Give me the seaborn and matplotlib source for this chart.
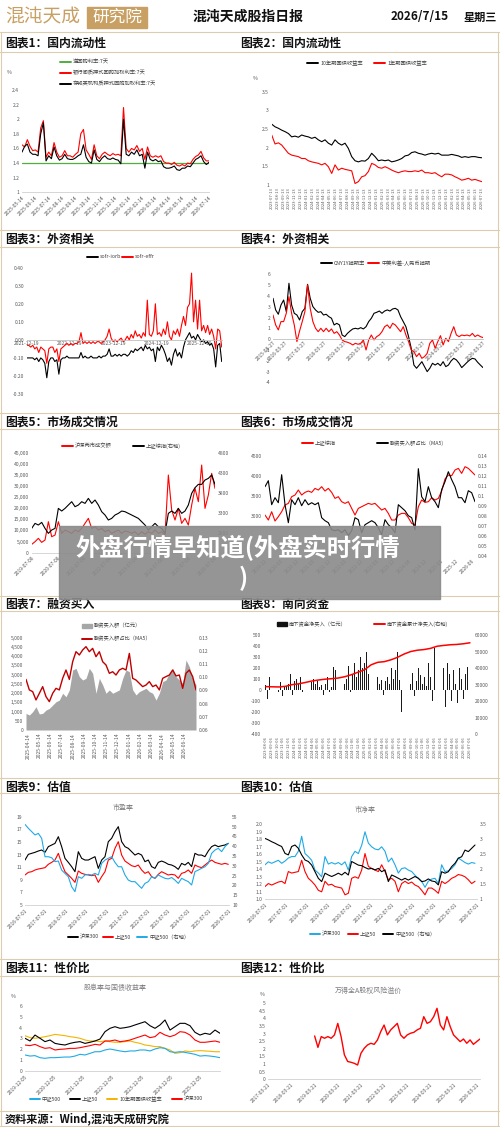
import numpy as np
import matplotlib
matplotlib.use('Agg')
import matplotlib.pyplot as plt
import seaborn as sns
from matplotlib.lines import Line2D
from matplotlib.patches import Rectangle

sns.set_theme(style='white')
plt.rcParams['font.family'] = ['Noto Sans CJK SC', 'DejaVu Sans']
plt.rcParams['axes.unicode_minus'] = False

# ---------------- DATA ----------------
# Panel 1: 国内流动性 (repo rates)
p1_xlabels = ['2025-05-14', '2025-06-14', '2025-07-14', '2025-08-14', '2025-09-14', '2025-10-14',
              '2025-11-14', '2025-12-14', '2026-01-14', '2026-02-14', '2026-03-14', '2026-04-14',
              '2026-05-14', '2026-06-14', '2026-07-14']
p1_ylabels = ['1', '1.2', '1.4', '1.6', '1.8', '2', '2.2', '2.4']
p1_green = [1.40, 1.40]
p1_red = [1.65, 1.62, 1.72, 1.63, 1.57, 1.58, 1.55, 1.88, 1.98, 1.48, 1.55, 1.50, 1.68, 1.55, 1.48,
          1.50, 1.57, 1.50, 1.50, 1.48, 1.52, 1.55, 1.80, 1.86, 1.58, 1.52, 1.45, 1.65, 1.50, 1.46,
          1.52, 1.55, 1.52, 1.50, 1.53, 1.51, 1.52, 1.50, 2.16, 1.60, 1.55, 1.60, 1.58, 1.64, 1.56,
          1.60, 1.45, 1.62, 1.50, 1.48, 1.50, 1.48, 1.50, 1.42, 1.40, 1.40, 1.38, 1.41, 1.37, 1.36,
          1.38, 1.36, 1.40, 1.39, 1.45, 1.49, 1.51, 1.56, 1.47, 1.43, 1.43]
p1_black = [1.55, 1.63, 1.66, 1.55, 1.52, 1.52, 1.50, 1.80, 1.95, 1.43, 1.50, 1.46, 1.62, 1.50, 1.44,
            1.46, 1.52, 1.46, 1.45, 1.45, 1.47, 1.50, 1.52, 1.65, 1.48, 1.42, 1.40, 1.58, 1.45, 1.42,
            1.47, 1.50, 1.46, 1.45, 1.47, 1.45, 1.44, 1.39, 2.00, 1.52, 1.50, 1.55, 1.52, 1.58, 1.50,
            1.52, 1.33, 1.55, 1.45, 1.43, 1.45, 1.42, 1.43, 1.35, 1.33, 1.33, 1.34, 1.36, 1.31, 1.30,
            1.33, 1.33, 1.36, 1.35, 1.40, 1.45, 1.47, 1.50, 1.42, 1.38, 1.41]

# Panel 2: 国债收益率
p2_xlabels = ['%d-%02d-13' % (2023 + (6 + i) // 12, (6 + i) % 12 + 1) for i in range(37)]
p2_ylabels = ['1', '1.5', '2', '2.5', '3', '3.5']
p2_10y = [2.63, 2.56, 2.52, 2.47, 2.43, 2.38, 2.29, 2.31, 2.28, 2.34, 2.31, 2.29, 2.25, 2.28, 2.21,
          2.16, 2.21, 2.12, 2.07, 2.21, 2.12, 2.07, 2.12, 1.98, 1.76, 1.65, 1.62, 1.65, 1.64, 1.71,
          1.85, 1.76, 1.65, 1.67, 1.65, 1.67, 1.62, 1.64, 1.67, 1.71, 1.78, 1.80, 1.87, 1.89, 1.85,
          1.83, 1.80, 1.83, 1.85, 1.83, 1.85, 1.80, 1.80, 1.80, 1.82, 1.80, 1.78, 1.74, 1.76, 1.74,
          1.76, 1.76, 1.74, 1.73]
p2_1y = [2.34, 2.10, 2.13, 2.07, 1.96, 1.85, 1.80, 1.78, 1.76, 1.71, 1.71, 1.65, 1.62, 1.60, 1.58,
         1.54, 1.58, 1.49, 1.31, 1.54, 1.40, 1.45, 1.42, 1.40, 1.38, 1.04, 1.09, 1.22, 1.25, 1.36,
         1.58, 1.54, 1.47, 1.45, 1.49, 1.45, 1.40, 1.36, 1.33, 1.36, 1.38, 1.36, 1.36, 1.38, 1.36,
         1.40, 1.33, 1.33, 1.31, 1.33, 1.27, 1.22, 1.29, 1.29, 1.27, 1.22, 1.18, 1.13, 1.15, 1.18,
         1.13, 1.15, 1.12, 1.09]

# Panel 3: 外资相关 (sofr spreads)
p3_xlabels = ['2021-12-19', '2022-12-19', '2023-12-19', '2024-12-19', '2025-12-19']
p3_ylabels = ['-0.30', '-0.20', '-0.10', '0.00', '0.10', '0.20', '0.30', '0.40']
p3_iorb = [-0.10, -0.10, -0.10, -0.10, -0.11, -0.10, -0.12, -0.10, -0.11, -0.13, -0.21, -0.12, -0.10, -0.10,
           -0.12, -0.11, -0.19, -0.11, -0.10, -0.10, -0.09, -0.10, -0.10, -0.10, -0.10, -0.10, -0.10, -0.07,
           -0.10, -0.09, -0.10, -0.10, -0.09, -0.10, -0.10, -0.10, -0.09, -0.10, -0.09, -0.09, -0.08, -0.05,
           -0.09, -0.09, -0.08, -0.09, -0.08, -0.09, -0.08, -0.08, -0.09, -0.08, -0.06, -0.07, -0.05, -0.06,
           -0.05, -0.04, -0.06, -0.03, -0.05, -0.04, -0.06, -0.05, -0.12, -0.04, -0.06, -0.03, -0.05, -0.08,
           -0.12, -0.10, -0.14, -0.08, -0.05, -0.09, -0.07, -0.10, -0.04, 0.00, 0.02, 0.04, 0.01, 0.02,
           0.00, 0.03, 0.01, -0.01, 0.00, -0.02, -0.01, -0.03, -0.02, -0.05, -0.15, -0.03, -0.02, -0.12]
p3_effr = [-0.03, -0.03, -0.04, -0.03, -0.05, -0.04, -0.07, -0.04, -0.05, -0.06, -0.13, -0.05, -0.04, -0.04,
           -0.07, -0.05, -0.12, -0.05, -0.04, -0.03, -0.02, -0.03, -0.02, -0.03, -0.02, -0.02, -0.01, 0.04,
           -0.02, -0.01, -0.02, -0.01, -0.02, -0.01, -0.02, -0.01, -0.01, -0.02, -0.01, 0.00, 0.02, 0.06,
           0.01, -0.01, 0.00, -0.01, 0.00, 0.01, -0.01, 0.00, 0.02, 0.00, 0.03, 0.01, 0.05, 0.02,
           0.03, 0.01, 0.04, 0.02, 0.22, 0.03, 0.02, 0.05, 0.20, 0.03, 0.04, 0.02, 0.06, 0.03,
           0.10, 0.02, 0.00, 0.05, 0.03, 0.06, 0.02, 0.08, 0.13, 0.08, 0.18, 0.20, 0.37, 0.10,
           0.22, 0.06, 0.22, 0.05, 0.08, 0.04, 0.08, 0.03, 0.06, 0.02, -0.05, 0.06, 0.05, -0.04]

# Panel 4: 外资相关 (CNY swap)
p4_xlabels = ['2015-08-27', '2016-03-27', '2017-03-27', '2018-03-27', '2019-03-27', '2020-03-27',
              '2021-03-27', '2022-03-27', '2023-03-27', '2024-03-27', '2025-03-27', '2026-03-27']
p4_xmonths = [0, 7, 19, 31, 43, 55, 67, 79, 91, 103, 115, 127]
p4_ylabels = ['-4', '-3', '-2', '-1', '0', '1', '2', '3', '4', '5', '6']
p4_swap = [3.78, 2.70, 2.30, 3.16, 3.62, 2.54, 5.17, 3.16, 2.39, 2.23, 1.77, 2.54, 2.85, 5.07, 3.78, 3.01,
           2.70, 2.48, 2.54, 2.23, 2.30, 2.08, 1.93, 1.31, 1.46, 1.31, 0.38, 0.23, 0.53, 0.75, 0.94, 1.00,
           0.94, 1.06, 0.94, 1.15, 1.62, 1.93, 2.39, 2.48, 2.60, 2.39, 2.60, 2.70, 2.60, 2.79, 2.85, 2.70,
           2.08, 1.62, 1.15, 0.23, -0.85, -2.40, -2.70, -2.40, -2.09, -2.55, -3.01, -2.70, -2.24, -2.40,
           -2.24, -2.46, -2.09, -2.55, -2.40, -2.02, -1.78, -1.93, -2.24, -2.64, -2.40, -2.15, -1.93, -1.78,
           -1.84, -2.15, -2.40, -2.64]
p4_spread = [2.23, 1.31, 0.85, 1.62, 1.62, 2.39, 3.93, 2.39, 1.31, -0.23, 0.75, 1.62, 2.54, 5.01, 2.85, 1.62,
             1.00, 0.69, 1.00, 0.69, 1.00, 0.69, 0.94, 0.53, 0.69, 0.38, -0.08, -0.23, -0.29, -0.39, -0.54, -0.39,
             -0.48, -0.39, -0.08, -1.01, -0.08, 0.38, -0.08, 0.23, 0.38, 0.69, 1.15, 1.31, 1.00, 1.46, 1.31, 1.00,
             0.69, 1.15, 0.38, -0.23, -1.01, -1.16, -1.62, -1.32, -1.78, -1.62, -1.32, -0.39, -0.08, -0.85,
             -0.23, 0.32, -0.54, 0.08, -0.23, 0.53, 1.15, 0.38, 0.23, 0.38, 0.32, 0.38, 0.29, 0.53,
             0.23, 0.38, 0.23, 0.14]

# Panel 5: 市场成交情况
p5_xlabels = ['2019-07-08', '2020-07-08', '2021-07-08', '2022-07-08', '2023-07-08', '2024-07-08',
              '2025-07-08', '2026-07-08']
p5_ylabels = ['0', '5,000', '10,000', '15,000', '20,000', '25,000', '30,000', '35,000', '40,000', '45,000']
p5_y2labels = ['2800', '3300', '3800', '4300', '4800']
p5_turnover = [3750, 4950, 6450, 4650, 5700, 13950, 7200, 7950, 13950, 8700, 10200, 9450, 8700, 10200,
               9450, 10950, 13200, 15450, 10950, 11700, 10200, 10950, 9450, 10200, 8700, 9450, 10200, 8700,
               9750, 9450, 8700, 9450, 7950, 9450, 8250, 9450, 8700, 10200, 8700, 9450, 7950, 34950,
               19200, 14700, 19950, 13200, 15450, 12450, 21450, 28950, 22950, 39450, 19950, 25950, 35700, 28950]
p5_sh = [2908, 3033, 2992, 3058, 2908, 2783, 2867, 2908, 3408, 3342, 3408, 3492, 3575, 3450, 3492, 3575,
         3533, 3658, 3533, 3617, 3492, 3325, 3242, 3117, 3158, 3242, 3283, 3342, 3325, 3283, 3242, 3200,
         3158, 3075, 2992, 2867, 2950, 3033, 2950, 2908, 2783, 3283, 3342, 3283, 3408, 3283, 3342, 3492,
         3783, 3925, 4008, 4008, 4117, 4158, 4242, 4008]

# Panel 6: 市场成交情况 (上证综指 vs 融资占比)
p6_xlabels = ['2019-12', '2020-06', '2020-12', '2021-06', '2021-12', '2022-06', '2022-12', '2023-06',
              '2023-12', '2024-06', '2024-12', '2025-06', '2025-12', '2026-06']
p6_yticks = [3000, 3500, 4000, 4500]          # lower labels are hidden under the banner
p6_ylabels = ['3000', '3500', '4000', '4500']
p6_y2labels = ['0.04', '0.05', '0.06', '0.07', '0.08', '0.09', '0.1', '0.11', '0.12', '0.13', '0.14']
p6_sh = [3017, 2892, 3100, 2867, 2975, 3100, 3267, 3308, 3475, 3517, 3642, 3517, 3583, 3617, 3583, 3683,
         3642, 3725, 3617, 3683, 3583, 3433, 3475, 3350, 3308, 3350, 3183, 3017, 3183, 3225, 3267, 3308,
         3283, 3308, 3225, 3142, 3183, 3058, 2892, 2892, 3017, 3058, 3058, 2950, 2808, 2767, 3225, 3392,
         3333, 3350, 3450, 3392, 3433, 3617, 3917, 4017, 4000, 4142, 4183, 4058, 4225, 4183, 4100, 4017]
p6_ratio = [0.109, 0.115, 0.091, 0.098, 0.093, 0.121, 0.091, 0.073, 0.096, 0.091, 0.098, 0.090, 0.096,
            0.091, 0.093, 0.091, 0.093, 0.078, 0.075, 0.073, 0.066, 0.065, 0.066, 0.063, 0.066, 0.060,
            0.065, 0.078, 0.076, 0.063, 0.071, 0.073, 0.075, 0.073, 0.068, 0.061, 0.076, 0.071, 0.068,
            0.063, 0.091, 0.088, 0.085, 0.080, 0.078, 0.066, 0.127, 0.099, 0.094, 0.109, 0.098, 0.094,
            0.088, 0.106, 0.114, 0.124, 0.116, 0.109, 0.098, 0.098, 0.093, 0.105, 0.103, 0.094]

# Panel 7: 融资买入
p7_xlabels = ['2025-04-14', '2025-05-14', '2025-06-14', '2025-07-14', '2025-08-14', '2025-09-14',
              '2025-10-14', '2025-11-14', '2025-12-14', '2026-01-14', '2026-02-14', '2026-03-14',
              '2026-04-14', '2026-05-14', '2026-06-14']
p7_ylabels = ['0', '500', '1,000', '1,500', '2,000', '2,500', '3,000', '3,500', '4,000', '4,500', '5,000']
p7_y2labels = ['0.06', '0.07', '0.08', '0.09', '0.10', '0.11', '0.12', '0.13']
p7_amount = [900, 810, 990, 1260, 870, 900, 1080, 1170, 1350, 1530, 1620, 1990, 1800, 2170, 3250, 3340,
             2890, 2710, 2800, 3340, 3070, 1990, 2800, 2440, 1990, 2170, 1990, 2080, 2170, 2800, 3250, 3160,
             2170, 1900, 2080, 2170, 2260, 2080, 1990, 1620, 1990, 2620, 2710, 3070, 3340, 2890, 2710, 2530,
             3790, 3430, 2800, 2440]
p7_ratio = [0.0984, 0.0904, 0.0891, 0.0828, 0.0878, 0.0929, 0.0853, 0.0815, 0.0878, 0.0916, 0.0904, 0.0992,
            0.1055, 0.0984, 0.1118, 0.1194, 0.1169, 0.1207, 0.1232, 0.1194, 0.1219, 0.1156, 0.1194, 0.1118,
            0.1093, 0.1030, 0.1042, 0.1017, 0.1055, 0.1068, 0.1055, 0.1181, 0.0992, 0.0979, 0.0954, 0.0929,
            0.0941, 0.0967, 0.0929, 0.0941, 0.0904, 0.0992, 0.1005, 0.1017, 0.1055, 0.1010, 0.1017, 0.0916,
            0.1030, 0.1055, 0.1005, 0.0904]

# Panel 8: 南向资金
p8_xlabels = ['%d-%02d-06' % (2023 + (7 + i) // 12, (7 + i) % 12 + 1) for i in range(36)]
p8_ylabels = ['-400', '-300', '-200', '-100', '0', '100', '200', '300', '400', '500']
p8_y2labels = ['0', '10000', '20000', '30000', '40000', '50000', '60000']
p8_net = [50, -80, 120, -30, 60, 40, -20, 70, -50, 30, 40,
          60, 150, -40, 80, 100, 60, 120, -20, 90, 110, 40, 70, 100, 60,
          80, 30, 50, -40, 60, 120, -20, 30, 210, 180, -30, 90, 150, 60,
          100, 220, -20, 150, 250, 120, 180,
          300, 200, 250, 350, 150, -80, 220, -180,
          120, 60, 90, -40, 80, 120, 60, 200, 100,
          180, 350, 90, -200, 150,
          120, 100, 60, 160, -50, 80, 200, 140, 60, 120, 40,
          250, 120, -100, 380, -280, 300, -270, 200, -150, 250,
          150, -100, 180, 60, -120, 200, 100, -80, 150, 210, 90]
p8_cum = [28800, 28700, 28600, 29000, 30000, 30500, 31300, 32200, 32800, 33300, 33600, 34000, 34800, 36000,
          37500, 39000, 42000, 43500, 43900, 45000, 46500, 48500, 50000, 50800, 51200, 51900, 53200, 53700,
          54100, 54300, 54700, 55300]

# Panel 9: 市盈率
p9_xlabels = ['2016-07-01', '2017-07-01', '2018-07-01', '2019-07-01', '2020-07-01', '2021-07-01',
              '2022-07-01', '2023-07-01', '2024-07-01', '2025-07-01', '2026-07-01']
p9_ylabels = ['5', '7', '9', '11', '13', '15', '17', '19']
p9_y2labels = ['10', '15', '20', '25', '30', '35', '40', '45', '50', '55']
p9_hs300 = [12.13, 13.03, 13.19, 13.35, 13.56, 13.72, 13.35, 14.25, 14.51, 14.77, 15.83, 14.25, 12.40, 11.76,
            11.08, 10.28, 13.45, 12.40, 12.13, 12.13, 12.40, 12.66, 10.81, 12.13, 12.66, 15.04, 15.57, 16.62,
            17.42, 15.04, 14.25, 13.98, 13.45, 12.92, 13.19, 12.92, 11.87, 12.13, 11.08, 10.81, 11.76, 11.97,
            11.76, 11.45, 11.34, 11.08, 10.65, 11.60, 11.34, 11.76, 11.08, 13.19, 12.92, 12.92, 12.66, 13.56,
            14.25, 14.51, 14.25, 14.40, 14.51, 14.77]
p9_sz50 = [9.76, 10.18, 10.28, 10.55, 10.71, 10.81, 10.92, 11.45, 11.76, 12.13, 13.19, 11.60, 10.28, 9.76,
           9.23, 8.59, 10.39, 10.02, 9.86, 9.76, 9.65, 9.76, 8.59, 9.49, 10.28, 12.13, 12.40, 13.98,
           15.04, 12.92, 11.97, 11.60, 11.23, 11.08, 11.34, 10.55, 10.02, 10.28, 9.49, 9.23, 9.86, 10.28,
           10.02, 9.76, 9.86, 9.76, 9.23, 10.02, 10.18, 10.55, 10.02, 11.34, 11.08, 10.92, 11.34, 11.76,
           12.13, 11.76, 11.60, 11.45, 11.60, 11.45]
p9_zz500 = [51.1, 49.1, 47.4, 45.7, 46.5, 44.0, 34.6, 34.6, 34.1, 32.1, 32.4, 27.8, 26.1, 24.4, 19.3, 16.8,
            24.4, 23.6, 25.3, 25.6, 25.3, 26.1, 25.3, 31.2, 32.9, 33.8, 34.6, 31.7, 29.5, 29.5, 25.3, 22.7,
            21.9, 21.9, 20.2, 18.5, 21.0, 21.9, 24.4, 23.6, 25.3, 24.4, 23.6, 23.3, 24.0, 22.7, 21.0, 23.6,
            22.7, 21.9, 20.2, 27.0, 27.8, 28.7, 29.5, 31.2, 36.3, 38.0, 38.9, 37.2, 39.7, 41.4]

# Panel 10: 市净率
p10_ylabels = ['1.0', '1.1', '1.2', '1.3', '1.4', '1.5', '1.6', '1.7', '1.8', '1.9', '2.0']
p10_y2labels = ['1', '1.5', '2', '2.5', '3', '3.5']
p10_hs300 = [1.46, 1.50, 1.48, 1.50, 1.52, 1.48, 1.51, 1.55, 1.57, 1.57, 1.64, 1.84, 1.61, 1.57, 1.52, 1.39,
             1.35, 1.30, 1.57, 1.47, 1.49, 1.47, 1.49, 1.46, 1.50, 1.39, 1.57, 1.64, 1.61, 1.72, 1.90, 1.75,
             1.70, 1.67, 1.66, 1.70, 1.64, 1.50, 1.55, 1.46, 1.35, 1.41, 1.42, 1.39, 1.37, 1.32, 1.28, 1.24,
             1.16, 1.24, 1.27, 1.28, 1.21, 1.46, 1.37, 1.38, 1.41, 1.46, 1.55, 1.52, 1.49, 1.47, 1.49, 1.48]
p10_sz50 = [1.17, 1.21, 1.19, 1.21, 1.23, 1.24, 1.21, 1.37, 1.35, 1.36, 1.37, 1.52, 1.37, 1.28, 1.24, 1.19,
            1.12, 1.10, 1.24, 1.19, 1.20, 1.17, 1.16, 1.15, 1.06, 1.08, 1.28, 1.30, 1.28, 1.39, 1.61, 1.44,
            1.41, 1.39, 1.37, 1.46, 1.37, 1.26, 1.28, 1.24, 1.10, 1.21, 1.24, 1.21, 1.23, 1.19, 1.17, 1.12,
            1.06, 1.15, 1.15, 1.12, 1.08, 1.24, 1.21, 1.24, 1.28, 1.30, 1.33, 1.32, 1.30, 1.26, 1.21, 1.24]
p10_zz500 = [3.03, 2.98, 2.92, 2.87, 2.81, 2.76, 2.53, 2.48, 2.76, 2.81, 2.70, 2.48, 2.31, 2.26, 2.14, 1.92,
             1.70, 1.59, 1.87, 1.81, 1.76, 1.81, 1.87, 1.81, 1.90, 1.81, 2.26, 2.20, 2.14, 2.12, 2.06, 2.01,
             2.03, 1.98, 2.03, 1.92, 1.98, 1.59, 1.81, 1.76, 1.70, 1.64, 1.70, 1.64, 1.70, 1.76, 1.70, 1.59,
             1.61, 1.68, 1.61, 1.59, 1.48, 1.92, 1.87, 1.92, 2.09, 2.20, 2.37, 2.42, 2.64, 2.59, 2.70, 2.81]

# Panel 11: 股息率与国债收益率
p11_xlabels = ['2019-12-05', '2020-12-05', '2021-12-05', '2022-12-05', '2023-12-05', '2024-12-05', '2025-12-05']
p11_ylabels = ['0', '1', '2', '3', '4', '5', '6']
p11_sz50 = [3.02, 2.77, 3.32, 3.02, 2.71, 2.86, 2.55, 2.46, 2.40, 2.55, 2.65, 2.71, 2.55, 2.65, 2.77, 2.95,
            3.63, 3.94, 4.09, 3.94, 4.00, 4.09, 4.25, 4.40, 4.55, 4.18, 3.94, 4.25, 4.71, 3.78, 4.09, 4.40,
            4.40, 4.18, 3.57, 3.32, 3.48, 3.38, 3.78, 3.48]
p11_hs300 = [2.40, 2.34, 2.46, 2.25, 2.09, 2.15, 1.94, 2.00, 2.03, 2.09, 2.09, 2.15, 2.25, 2.34, 2.46, 2.40,
             2.77, 2.77, 2.86, 2.71, 2.77, 2.86, 3.02, 3.17, 3.32, 3.08, 3.17, 3.57, 3.32, 3.17, 3.32, 3.63,
             3.57, 3.32, 2.86, 2.65, 2.65, 2.71, 2.77, 2.65]
p11_bond = [3.26, 3.08, 3.02, 3.08, 3.17, 3.26, 3.38, 3.32, 3.26, 3.17, 3.11, 3.02, 2.86, 2.77, 2.77, 2.71,
            2.77, 2.71, 2.65, 2.65, 2.71, 2.77, 2.65, 2.55, 2.40, 2.34, 2.25, 2.25, 2.09, 1.94, 1.63, 1.69,
            1.85, 1.78, 1.85, 1.88, 1.85, 1.82, 1.78, 1.78]
p11_zz500 = [1.48, 1.38, 1.42, 1.23, 1.17, 1.23, 1.23, 1.26, 1.29, 1.29, 1.38, 1.54, 1.48, 1.63, 1.78, 1.78,
             1.94, 2.03, 1.94, 1.85, 1.78, 1.85, 1.85, 1.94, 1.94, 1.85, 2.03, 2.15, 2.09, 1.78, 1.72, 1.78,
             1.72, 1.63, 1.54, 1.38, 1.42, 1.38, 1.32, 1.23]

# Panel 12: 万得全A股权风险溢价
p12_xlabels = ['2017-03-21', '2018-03-21', '2019-03-21', '2020-03-21', '2021-03-21', '2022-03-21',
               '2023-03-21', '2024-03-21', '2025-03-21', '2026-03-21']
p12_ylabels = ['0', '0.5', '1', '1.5', '2', '2.5', '3', '3.5', '4', '4.5', '5']
p12_erp = [2.85, 2.10, 2.81, 2.70, 2.81, 2.70, 2.92, 3.68, 2.81, 1.61, 1.17, 1.12, 1.05, 0.94, 1.71, 2.04,
           2.26, 2.37, 2.30, 2.59, 3.14, 3.57, 2.92, 3.25, 3.46, 3.68, 2.92, 2.70, 2.92, 3.03, 3.09, 3.25,
           3.36, 4.12, 3.68, 3.79, 4.12, 4.67, 3.57, 3.25, 4.12, 3.46, 2.92, 2.70, 2.48, 2.65, 2.37, 2.59,
           2.30, 2.48, 2.65]

# ---------------- STYLE / LAYOUT ----------------
W, H = 500, 1127
TS = 3.6          # tick font size
TC = '#595959'    # tick colour
RED = '#ff0000'
BLK = '#000000'
BLUE = '#1eaae7'
ORANGE = '#f4b400'
GREEN = '#4fae3e'
BEIGE = '#dccdae'
GOLD = '#c9a063'

fig = plt.figure(figsize=(W / 100, H / 100), dpi=100)
fig.patch.set_facecolor('white')


def fy(y):
    return 1 - y / H


def add_ax(l, t, r, b):
    ax = fig.add_axes([l / W, 1 - b / H, (r - l) / W, (b - t) / H])
    ax.set_facecolor('none')
    for s in ax.spines.values():
        s.set_visible(False)
    ax.tick_params(length=0, labelsize=TS, colors=TC, pad=2)
    ax.grid(False)
    return ax


def twin(ax):
    a2 = ax.twinx()
    for s in a2.spines.values():
        s.set_visible(False)
    a2.tick_params(length=0, labelsize=TS, colors=TC, pad=2)
    a2.grid(False)
    return a2


def bottom_line(ax, color='#d0d0d0'):
    ax.spines['bottom'].set_visible(True)
    ax.spines['bottom'].set_color(color)
    ax.spines['bottom'].set_linewidth(0.6)


def set_y(ax, lo, hi, labels):
    vals = np.linspace(lo, hi, len(labels))
    ax.set_ylim(lo, hi)
    ax.set_yticks(vals)
    ax.set_yticklabels(labels)


def set_x(ax, ticks, labels, rot=45):
    ax.set_xticks(ticks)
    if rot == 45:
        ax.set_xticklabels(labels, rotation=45, ha='right', va='top', rotation_mode='anchor')
    elif rot == 90:
        ax.set_xticklabels(labels, rotation=90, ha='center', va='top')
    else:
        ax.set_xticklabels(labels, rotation=0, ha='center', va='top')


def line(ax, x, y, color, lw=0.8):
    sns.lineplot(x=np.asarray(x, dtype=float), y=np.asarray(y, dtype=float), ax=ax, color=color,
                 linewidth=lw, legend=False, estimator=None, sort=False)


def leg_line(x, y, color, text, length=11, lw=1.4):
    fig.add_artist(Line2D([x / W, (x + length) / W], [fy(y), fy(y)], color=color, lw=lw,
                          transform=fig.transFigure))
    fig.text((x + length + 2) / W, fy(y), text, fontsize=3.8, color='#404040', va='center', ha='left')


def leg_patch(x, y, color, text, length=10, h=4):
    fig.add_artist(Rectangle((x / W, fy(y + h / 2)), length / W, h / H, color=color,
                             transform=fig.transFigure))
    fig.text((x + length + 2) / W, fy(y), text, fontsize=3.8, color='#404040', va='center', ha='left')


def hline(y, color=BEIGE, lw=0.8):
    fig.add_artist(Line2D([0, 1], [fy(y), fy(y)], color=color, lw=lw, transform=fig.transFigure))


# ---------------- HEADER ----------------
fig.text(5 / W, fy(17), '混沌天成', fontsize=13.5, color=GOLD, weight='light', va='center', ha='left')
fig.add_artist(Rectangle((87 / W, fy(28)), 60 / W, 21 / H, color=GOLD, transform=fig.transFigure))
fig.text(117 / W, fy(17.5), '研究院', fontsize=12, color='white', va='center', ha='center')
fig.text(248 / W, fy(17), '混沌天成股指日报', fontsize=10, weight='bold', color='#111111', va='center', ha='center')
fig.text(420 / W, fy(17), '2026/7/15', fontsize=8.5, weight='bold', color='#111111', va='center', ha='center')
fig.text(480 / W, fy(17), '星期三', fontsize=8, weight='bold', color='#111111', va='center', ha='center')

for yy in [32, 52, 230, 247, 413, 429, 596, 611, 778, 793, 959, 976, 1111, 1126]:
    hline(yy)
for xx in [1, 498]:
    fig.add_artist(Line2D([xx / W, xx / W], [fy(32), fy(1126)], color=BEIGE, lw=0.8,
                          transform=fig.transFigure))

titles = [(43, '图表1：国内流动性', '图表2：国内流动性'),
          (239, '图表3：外资相关', '图表4：外资相关'),
          (422, '图表5：市场成交情况', '图表6：市场成交情况'),
          (604, '图表7：融资买入', '图表8：南向资金'),
          (787, '图表9：估值', '图表10：估值'),
          (968, '图表11：性价比', '图表12：性价比')]
for yy, tl, tr in titles:
    fig.text(5 / W, fy(yy), tl, fontsize=8.5, weight='bold', color='#111111', va='center', ha='left')
    fig.text(240 / W, fy(yy), tr, fontsize=8.5, weight='bold', color='#111111', va='center', ha='left')

# ---------------- PANEL 1 ----------------
ax = add_ax(22, 90, 209, 192.3)
line(ax, [0, 14], p1_green, GREEN, 0.9)
line(ax, np.linspace(0, 14, len(p1_red)), p1_red, RED)
line(ax, np.linspace(0, 14, len(p1_black)), p1_black, BLK)
ax.set_xlim(0, 14)
set_y(ax, 1, 2.4, p1_ylabels)
set_x(ax, range(15), p1_xlabels)
bottom_line(ax)
fig.text(7 / W, fy(73), '%', fontsize=3.8, color=TC, va='center')
leg_line(60, 62, GREEN, '逆回购利率:7天')
leg_line(60, 73, RED, '银行间质押式回购加权利率:7天')
leg_line(60, 84, BLK, '存款类机构质押式回购加权利率:7天')

# ---------------- PANEL 2 ----------------
ax = add_ax(271.7, 91.7, 481.7, 185)
x2 = np.linspace(0, 36, len(p2_10y))
line(ax, x2, p2_10y, BLK)
line(ax, x2, p2_1y, RED)
ax.set_xlim(0, 36)
set_y(ax, 1, 3.5, p2_ylabels)
ax.tick_params(axis='x', labelsize=3.0, pad=1.5)
set_x(ax, range(37), p2_xlabels, rot=90)
fig.text(253 / W, fy(79), '%', fontsize=3.8, color=TC, va='center')
leg_line(307, 63, BLK, '10年期国债收益率')
leg_line(374, 63, RED, '1年期国债收益率')

# ---------------- PANEL 3 ----------------
ax = add_ax(26.7, 267.7, 221.7, 394)
x3 = np.linspace(0, 54, len(p3_iorb))
line(ax, x3, p3_iorb, BLK)
line(ax, x3, p3_effr, RED)
ax.set_xlim(0, 54)
set_y(ax, -0.3, 0.4, p3_ylabels)
ax.spines['bottom'].set_position(('data', 0))
bottom_line(ax, '#bfbfbf')
set_x(ax, [0, 12, 24, 36, 48], p3_xlabels, rot=0)
ax.tick_params(axis='x', pad=1)
leg_line(87, 257, BLK, 'sofr-iorb')
leg_line(122, 257, RED, 'sofr-effr')

# ---------------- PANEL 4 ----------------
ax = add_ax(273, 274.3, 483, 382.3)
x4 = np.linspace(0, 127, len(p4_swap))
line(ax, x4, p4_swap, BLK)
line(ax, x4, p4_spread, RED)
ax.set_xlim(0, 127)
set_y(ax, -4, 6, p4_ylabels)
ax.spines['bottom'].set_position(('data', 0))
bottom_line(ax, '#bfbfbf')
set_x(ax, p4_xmonths, p4_xlabels)
ax.tick_params(axis='x', pad=1)
leg_line(321, 263, BLK, 'CNY1Y掉期率')
leg_line(368, 263, RED, '中美利差-人民币掉期')

# ---------------- PANEL 5 ----------------
ax = add_ax(31.7, 452.7, 215, 552.7)
x5 = np.linspace(0, 7, len(p5_turnover))
line(ax, x5, p5_turnover, RED)
ax.set_xlim(0, 7)
set_y(ax, 0, 45000, p5_ylabels)
set_x(ax, range(8), p5_xlabels)
bottom_line(ax)
a2 = twin(ax)
line(a2, x5, p5_sh, BLK)
a2.set_ylim(2300, 4800)
a2.set_yticks([2800, 3300, 3800, 4300, 4800])
a2.set_yticklabels(p5_y2labels)
a2.set_xlim(0, 7)
leg_line(62, 446, RED, '沪深两市成交额')
leg_line(133, 446, BLK, '上证综指(右轴)')

# ---------------- PANEL 6 ----------------
ax = add_ax(265, 455.7, 475, 555.7)
x6 = np.linspace(0, 79, len(p6_sh))
line(ax, x6, p6_sh, RED)
ax.set_xlim(0, 79)
ax.set_ylim(2000, 4500)
ax.set_yticks(p6_yticks)
ax.set_yticklabels(p6_ylabels)
set_x(ax, np.arange(0, 79, 6), p6_xlabels)
a2 = twin(ax)
line(a2, x6, p6_ratio, BLK)
set_y(a2, 0.04, 0.14, p6_y2labels)
a2.set_xlim(0, 79)
leg_line(302, 443, RED, '上证综指')
leg_line(377, 443, BLK, '融资买入额占比（MA5)')

# ---------------- PANEL 7 ----------------
ax = add_ax(26, 637.7, 196, 730)
x7 = np.linspace(-0.2, 15.0, len(p7_amount))
ax.fill_between(x7, p7_amount, color='#a6a6a6', lw=0)
ax.set_xlim(-0.2, 15.0)
set_y(ax, 0, 5000, p7_ylabels)
set_x(ax, range(15), p7_xlabels, rot=90)
a2 = twin(ax)
line(a2, x7, p7_ratio, '#c00000', 1.0)
set_y(a2, 0.06, 0.13, p7_y2labels)
a2.set_xlim(-0.2, 15.0)
leg_patch(82, 626, '#a6a6a6', '融资买入额（亿元）')
leg_line(82, 639, '#c00000', '融资买入额占比（MA5）', length=10)

# ---------------- PANEL 8 ----------------
ax = add_ax(264, 635, 471.7, 734.3)
x8 = np.linspace(0, 35, len(p8_net))
ax.bar(x8, p8_net, width=0.14, color='#1a1a1a', lw=0)
ax.set_xlim(-0.3, 35.3)
set_y(ax, -400, 500, p8_ylabels)
ax.tick_params(axis='x', labelsize=3.0, pad=1.5)
set_x(ax, range(36), p8_xlabels, rot=90)
a2 = twin(ax)
line(a2, np.linspace(0, 35, len(p8_cum)), p8_cum, RED, 1.1)
set_y(a2, 0, 60000, p8_y2labels)
a2.set_xlim(-0.3, 35.3)
leg_patch(277, 624, '#111111', '南下资金净买入（亿元）')
leg_line(374, 624, RED, '南下资金累计净买入(右轴)')

# ---------------- PANEL 9 ----------------
ax = add_ax(25, 816.7, 229.3, 905)
x9 = np.linspace(0, 9.95, len(p9_hs300))
line(ax, x9, p9_hs300, BLK)
line(ax, x9, p9_sz50, RED)
ax.set_xlim(0, 10)
set_y(ax, 5, 19, p9_ylabels)
set_x(ax, range(11), p9_xlabels)
bottom_line(ax)
a2 = twin(ax)
line(a2, x9, p9_zz500, BLUE)
set_y(a2, 10, 55, p9_y2labels)
a2.set_xlim(0, 10)
fig.text(123 / W, fy(808), '市盈率', fontsize=5, color='#7f7f7f', ha='center', va='center')
leg_line(68, 937, BLK, '沪深300', length=10)
leg_line(103, 937, RED, '上证50', length=10)
leg_line(137, 937, BLUE, '中证500（右轴）', length=10)

# ---------------- PANEL 10 ----------------
ax = add_ax(265, 824.3, 476.7, 899.3)
x10 = np.linspace(0, 9.92, len(p10_hs300))
line(ax, x10, p10_hs300, BLUE)
line(ax, x10, p10_sz50, RED)
ax.set_xlim(0, 10)
set_y(ax, 1.0, 2.0, p10_ylabels)
set_x(ax, range(11), p9_xlabels)
bottom_line(ax)
a2 = twin(ax)
line(a2, x10, p10_zz500, BLK)
set_y(a2, 1, 3.5, p10_y2labels)
a2.set_xlim(0, 10)
fig.text(365 / W, fy(810), '市净率', fontsize=5, color='#7f7f7f', ha='center', va='center')
leg_line(310, 934, BLUE, '沪深300', length=10)
leg_line(348, 934, RED, '上证50', length=10)
leg_line(383, 934, BLK, '中证500（右轴）', length=10)

# ---------------- PANEL 11 ----------------
ax = add_ax(25, 1006, 220, 1071)
x11 = np.linspace(0, 6.69, len(p11_sz50))
line(ax, x11, p11_bond, ORANGE)
line(ax, x11, p11_zz500, BLUE)
line(ax, x11, p11_hs300, RED)
line(ax, x11, p11_sz50, BLK)
ax.set_xlim(0, 6.69)
set_y(ax, 0, 6, p11_ylabels)
set_x(ax, range(7), p11_xlabels)
bottom_line(ax)
fig.text(115 / W, fy(988), '股息率与国债收益率', fontsize=5, color='#7f7f7f', ha='center', va='center')
fig.text(11 / W, fy(997), '%', fontsize=3.8, color=TC, va='center')
leg_line(30, 1099, BLUE, '中证500', length=10)
leg_line(70, 1099, BLK, '上证50', length=10)
leg_line(107, 1099, ORANGE, '10年期国债收益率', length=10)
leg_line(172, 1099, RED, '沪深300', length=10)

# ---------------- PANEL 12 ----------------
ax = add_ax(268.3, 1003.3, 480, 1079.3)
line(ax, np.linspace(2, 9.14, len(p12_erp)), p12_erp, RED, 1.0)
ax.set_xlim(0, 9.14)
set_y(ax, 0, 5, p12_ylabels)
set_x(ax, range(10), p12_xlabels)
bottom_line(ax)
fig.text(368 / W, fy(991), '万得全A股权风险溢价', fontsize=5, color='#7f7f7f', ha='center', va='center')
fig.text(260 / W, fy(995), '%', fontsize=3.8, color=TC, va='center')

# ---------------- FOOTER ----------------
fig.text(5 / W, fy(1119), '资料来源：Wind,混沌天成研究院', fontsize=8, weight='bold', style='italic',
         color='#111111', va='center', ha='left')

# ---------------- OVERLAY ----------------
fig.add_artist(Rectangle((59 / W, fy(599)), (440 - 59) / W, 73 / H, color='#8a8a8a', alpha=0.9,
                         transform=fig.transFigure, zorder=20))
fig.text(238 / W, fy(548), '外盘行情早知道(外盘实时行情', fontsize=17.5, weight='bold', color='white',
         ha='center', va='center', zorder=21)
fig.text(243 / W, fy(578), ')', fontsize=17.5, weight='bold', color='white', ha='center', va='center', zorder=21)

fig.savefig('out.png', dpi=100)
